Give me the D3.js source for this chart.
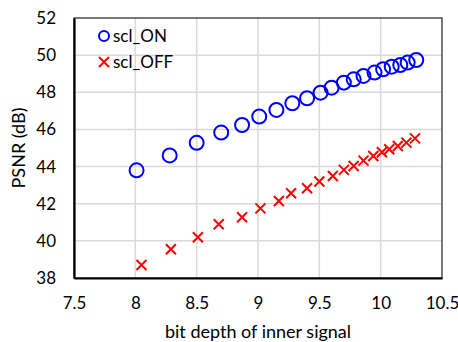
<!DOCTYPE html>
<html>
<head>
<meta charset="utf-8">
<script src="https://cdn.jsdelivr.net/npm/d3@7"></script>
<style>
  body { margin: 0; background: #fff; }
  text { font-family: Lato, "Open Sans", sans-serif; }
</style>
</head>
<body>
<svg width="458" height="342"></svg>
<script>
var xTicks = [7.5, 8, 8.5, 9, 9.5, 10, 10.5];
var yTicks = [38, 40, 42, 44, 46, 48, 50, 52];

var onX = [8.01, 8.28, 8.50, 8.70, 8.87, 9.01, 9.15, 9.28, 9.40, 9.51, 9.60, 9.70, 9.78, 9.86, 9.95, 10.02, 10.09, 10.16, 10.22, 10.29];
var onY = [43.8, 44.6, 45.28, 45.83, 46.24, 46.69, 47.05, 47.41, 47.68, 47.98, 48.25, 48.52, 48.70, 48.88, 49.06, 49.24, 49.38, 49.47, 49.6, 49.74];

var offX = [8.05, 8.29, 8.51, 8.68, 8.87, 9.02, 9.17, 9.27, 9.40, 9.50, 9.61, 9.70, 9.78, 9.86, 9.94, 10.01, 10.07, 10.14, 10.21, 10.28];
var offY = [38.7, 39.55, 40.19, 40.89, 41.27, 41.75, 42.15, 42.56, 42.83, 43.2, 43.49, 43.82, 44.03, 44.32, 44.57, 44.77, 44.93, 45.11, 45.29, 45.52];

var svg = d3.select("svg"),
  margin = { top: 18, right: 16, bottom: 64, left: 74 },
  width = +svg.attr("width") - margin.left - margin.right,
  height = +svg.attr("height") - margin.top - margin.bottom,
  g = svg.append("g")
    .attr("transform", "translate(" + margin.left + "," + margin.top + ")");

var x = d3.scaleLinear().domain([7.5, 10.5]).range([0, width]);
var y = d3.scaleLinear().domain([38, 52]).range([height, 0]);

function crossPath(h) {
  return "M" + -h + "," + -h + "L" + h + "," + h + "M" + -h + "," + h + "L" + h + "," + -h;
}

// grid
g.append("g")
  .selectAll("line")
  .data(xTicks.slice(1, -1))
  .enter().append("line")
  .attr("x1", function(d) { return x(d); })
  .attr("x2", function(d) { return x(d); })
  .attr("y1", 0).attr("y2", height)
  .attr("stroke", "#d9d9d9").attr("stroke-width", 1.5);

g.append("g")
  .selectAll("line")
  .data(yTicks.slice(1, -1))
  .enter().append("line")
  .attr("y1", function(d) { return y(d); })
  .attr("y2", function(d) { return y(d); })
  .attr("x1", 0).attr("x2", width)
  .attr("stroke", "#d9d9d9").attr("stroke-width", 1.5);

// frame
g.append("rect")
  .attr("width", width).attr("height", height)
  .attr("fill", "none").attr("stroke", "#222").attr("stroke-width", 1.2);

var xAxis = g.append("g")
  .attr("transform", "translate(0," + height + ")")
  .call(d3.axisBottom(x).tickValues(xTicks).tickSize(0).tickPadding(19).tickFormat(d3.format("")));
var yAxis = g.append("g")
  .call(d3.axisLeft(y).tickValues(yTicks).tickSize(0).tickPadding(18));

[xAxis, yAxis].forEach(function(a) {
  a.select(".domain").attr("stroke", "#000").attr("stroke-width", 2.2);
  a.selectAll("text").style("font-size", "17px").attr("fill", "#000");
});

// scl_ON circles
g.selectAll(".on")
  .data(onX)
  .enter().append("circle")
  .attr("class", "on")
  .attr("cx", function(d) { return x(d); })
  .attr("cy", function(d, i) { return y(onY[i]); })
  .attr("r", 7)
  .attr("fill", "none")
  .attr("stroke", "#0000ff")
  .attr("stroke-width", 2);

// scl_OFF crosses
g.selectAll(".off")
  .data(offX)
  .enter().append("path")
  .attr("class", "off")
  .attr("d", crossPath(5))
  .attr("transform", function(d, i) { return "translate(" + x(d) + "," + y(offY[i]) + ")"; })
  .attr("fill", "none")
  .attr("stroke", "#ff0000")
  .attr("stroke-width", 2);

// legend
var leg = g.append("g").attr("transform", "translate(30,18)");
leg.append("circle").attr("r", 5).attr("fill", "none").attr("stroke", "#0000ff").attr("stroke-width", 2);
leg.append("text").attr("x", 9).attr("dy", "0.35em").style("font-size", "17px").text("scl_ON");
leg.append("path").attr("d", crossPath(5))
  .attr("transform", "translate(0,26)")
  .attr("fill", "none").attr("stroke", "#ff0000").attr("stroke-width", 2);
leg.append("text").attr("x", 9).attr("y", 26).attr("dy", "0.35em").style("font-size", "17px").text("scl_OFF");

// axis titles
svg.append("text")
  .attr("x", margin.left + width / 2)
  .attr("y", 338)
  .attr("text-anchor", "middle")
  .style("font-size", "18px")
  .text("bit depth of inner signal");

svg.append("text")
  .attr("transform", "translate(25," + (margin.top + height / 2) + ") rotate(-90)")
  .attr("text-anchor", "middle")
  .style("font-size", "18px")
  .text("PSNR (dB)");
</script>
</body>
</html>
